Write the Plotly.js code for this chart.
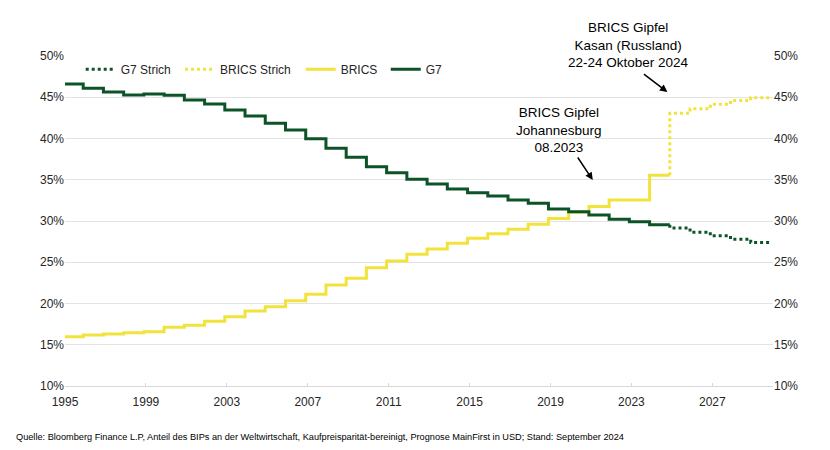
<!DOCTYPE html>
<html>
<head>
<meta charset="utf-8">
<script src="https://cdn.plot.ly/plotly-3.0.1.min.js"></script>
<style>html,body{margin:0;padding:0;background:#fff;}#chart{width:830px;height:450px;}</style>
</head>
<body>
<div id="chart"></div>
<script>
// Historical years (solid lines)
const years = [1995,1996,1997,1998,1999,2000,2001,2002,2003,2004,2005,2006,2007,2008,2009,
               2010,2011,2012,2013,2014,2015,2016,2017,2018,2019,2020,2021,2022,2023,2024];
const g7 = [46.6,46.08,45.64,45.27,45.39,45.23,44.67,44.18,43.45,42.73,41.84,41.03,39.98,38.81,37.72,
            36.59,35.86,35.05,34.48,33.88,33.43,33.03,32.55,32.14,31.45,31.13,30.73,30.2,29.92,29.55];
const brics = [15.98,16.18,16.30,16.46,16.59,17.11,17.35,17.84,18.40,19.09,19.60,20.34,21.11,22.24,23.05,
               24.34,25.15,25.96,26.6,27.3,27.9,28.45,29.0,29.62,30.3,31.05,31.75,32.55,32.55,35.55];
// Forecast years (dotted lines)
const forecastYears = [2025,2026,2027,2028,2029];
const g7Forecast = [29.15,28.65,28.2,27.8,27.4];
const bricsForecast = [43.05,43.6,44.15,44.6,44.95];
// X tick labels
const tickYears = [1995,1999,2003,2007,2011,2015,2019,2023,2027];

const stepOffset = -0.1;
const G7C = '#0c5428';
const BRC = '#f2e33c';
const FONT = 'Liberation Sans, Arial, sans-serif';

function solidXY(yrs, vals){
  const x = yrs.map(y => y + stepOffset);
  x.push(yrs[yrs.length-1] + 1 + stepOffset);
  const y = vals.slice(); y.push(vals[vals.length-1]);
  return {x, y};
}
function dottedXY(lastYear, lastVal, yrs, vals){
  const x = [lastYear + 1 + stepOffset].concat(yrs.map(y => y + stepOffset));
  x.push(yrs[yrs.length-1] + 1 + stepOffset);
  const y = [lastVal].concat(vals); y.push(vals[vals.length-1]);
  return {x, y};
}

const g7S = solidXY(years, g7);
const brS = solidXY(years, brics);
const g7D = dottedXY(years[years.length-1], g7[g7.length-1], forecastYears, g7Forecast);
const brD = dottedXY(years[years.length-1], brics[brics.length-1], forecastYears, bricsForecast);

const traces = [
  {x: g7D.x, y: g7D.y, name: 'G7 Strich', legend: 'legend', mode: 'lines', line: {shape: 'hv', color: G7C, width: 3, dash: 'dot'}},
  {x: brD.x, y: brD.y, name: 'BRICS Strich', legend: 'legend2', mode: 'lines', line: {shape: 'hv', color: BRC, width: 3, dash: 'dot'}},
  {x: brS.x, y: brS.y, name: 'BRICS', legend: 'legend3', mode: 'lines', line: {shape: 'hv', color: BRC, width: 3}},
  {x: g7S.x, y: g7S.y, name: 'G7', legend: 'legend4', mode: 'lines', line: {shape: 'hv', color: G7C, width: 3}}
];

const yAxisCommon = {
  range: [10, 50], dtick: 5, tick0: 10, ticksuffix: '%',
  showgrid: true, gridcolor: '#e3e3e3', gridwidth: 1,
  zeroline: false, showline: false, ticks: '',
  tickfont: {family: FONT, size: 12, color: '#262626'}, fixedrange: true
};

function legendAt(x){
  return {
    orientation: 'h', x: x, y: 0.96, xanchor: 'left', yanchor: 'middle',
    font: {family: FONT, size: 12, color: '#262626'}, bgcolor: 'rgba(0,0,0,0)', borderwidth: 0
  };
}

const layout = {
  width: 830, height: 450,
  margin: {l: 65, r: 57, t: 56, b: 64},
  paper_bgcolor: '#fff', plot_bgcolor: '#fff',
  font: {family: FONT, size: 12, color: '#262626'},
  showlegend: true,
  legend: legendAt(0.0222),
  legend2: legendAt(0.1625),
  legend3: legendAt(0.3329),
  legend4: legendAt(0.4530),
  xaxis: {
    range: [1995, 2030], tickvals: tickYears, ticktext: tickYears.map(String),
    showgrid: false, zeroline: false, showline: true, linecolor: '#d9d9d9', linewidth: 1,
    ticks: 'inside', ticklen: 3, tickcolor: '#d9d9d9', ticklabelstandoff: 5,
    tickfont: {family: FONT, size: 12, color: '#262626'}, fixedrange: true
  },
  yaxis: Object.assign({}, yAxisCommon),
  yaxis2: Object.assign({}, yAxisCommon, {overlaying: 'y', side: 'right', showgrid: false}),
  annotations: [
    {x: 0.7952, y: 1.0333, xref: 'paper', yref: 'paper', text: 'BRICS Gipfel<br>Kasan (Russland)<br>22-24 Oktober 2024',
     showarrow: false, xanchor: 'center', yanchor: 'middle', font: {family: FONT, size: 13.5, color: '#000'}},
    {x: 2024.78, y: 45.64, xref: 'x', yref: 'y', text: '', showarrow: true, ax: -25, ay: -19,
     arrowhead: 2, arrowsize: 1, arrowwidth: 1.5, arrowcolor: '#000'},
    {x: 2019.44, y: 41.07, xref: 'x', yref: 'y', text: 'BRICS Gipfel<br>Johannesburg<br>08.2023',
     showarrow: false, xanchor: 'center', yanchor: 'middle', font: {family: FONT, size: 13.5, color: '#000'}},
    {x: 2021.09, y: 34.97, xref: 'x', yref: 'y', text: '', showarrow: true, ax: -16, ay: -24,
     arrowhead: 2, arrowsize: 1, arrowwidth: 1.5, arrowcolor: '#000'},
    {x: 0, y: 0, xref: 'paper', yref: 'paper', text: 'Quelle: Bloomberg Finance L.P, Anteil des BIPs an der Weltwirtschaft, Kaufpreisparität-bereinigt, Prognose MainFirst in USD; Stand: September 2024',
     showarrow: false, xanchor: 'left', yanchor: 'middle', font: {family: FONT, size: 9.2, color: '#000'}}
  ]
};
// Footer position: convert pixel placement to paper coords
const plotW = 830 - 65 - 57, plotH = 450 - 56 - 64;
layout.annotations[4].x = (14 - 65) / plotW;
layout.annotations[4].y = 1 - (437 - 56) / plotH;

// invisible trace so the right-hand axis renders
traces.push({x: [1995], y: [10], yaxis: 'y2', mode: 'markers', marker: {opacity: 0}, showlegend: false, hoverinfo: 'skip'});

Plotly.newPlot('chart', traces, layout, {displayModeBar: false, staticPlot: true});
</script>
</body>
</html>
